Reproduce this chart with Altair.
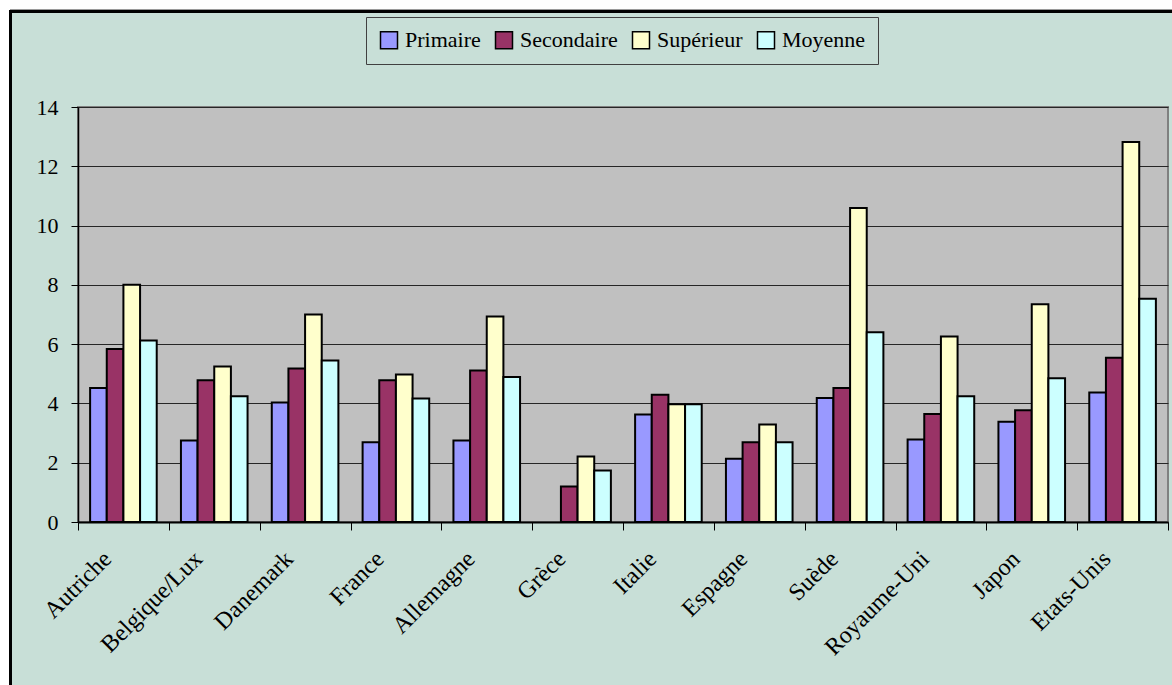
import altair as alt
import pandas as pd

# Countries along the x axis
pays = ["Autriche", "Belgique/Lux", "Danemark", "France", "Allemagne", "Grèce",
        "Italie", "Espagne", "Suède", "Royaume-Uni", "Japon", "Etats-Unis"]

# Series, one value per country
niveaux = ["Primaire", "Secondaire", "Supérieur", "Moyenne"]
primaire = [4.52, 2.75, 4.03, 2.69, 2.75, None, 3.63, 2.13, 4.18, 2.78, 3.38, 4.37]
secondaire = [5.84, 4.78, 5.18, 4.78, 5.11, 1.20, 4.29, 2.69, 4.52, 3.64, 3.77, 5.54]
superieur = [8.00, 5.25, 7.00, 4.98, 6.93, 2.21, 3.97, 3.29, 10.59, 6.26, 7.35, 12.82]
moyenne = [6.12, 4.24, 5.45, 4.17, 4.89, 1.74, 3.97, 2.69, 6.40, 4.24, 4.85, 7.53]

y_ticks = [0, 2, 4, 6, 8, 10, 12, 14]
couleurs = ["#9999FF", "#993366", "#FFFFCC", "#CCFFFF"]

BG = "#C8DFD7"
FONT = "Liberation Serif"

series = dict(zip(niveaux, [primaire, secondaire, superieur, moyenne]))
rows = []
for niv, vals in series.items():
    for p, v in zip(pays, vals):
        rows.append({"pays": p, "niveau": niv, "valeur": v})
df = pd.DataFrame(rows)

W, H = 1090, 415
PAD_L, PAD_T = 78, 107

bars = alt.Chart(df).mark_bar(stroke="black", strokeWidth=2).encode(
    x=alt.X(
        "pays:N", sort=pays, title=None,
        scale=alt.Scale(paddingInner=0, paddingOuter=0),
        axis=alt.Axis(
            tickBand="extent", labelAngle=315, labelAlign="right",
            labelBaseline="middle", labelOffset=-16, labelPadding=25,
            tickSize=8, tickColor="black", domainColor="black", domainWidth=2,
            labelFont=FONT, labelFontSize=24, labelColor="black", grid=False,
        ),
    ),
    xOffset=alt.XOffset(
        "niveau:N", sort=niveaux,
        scale=alt.Scale(domain=niveaux, paddingInner=0, paddingOuter=0.727),
    ),
    y=alt.Y(
        "valeur:Q", title=None,
        scale=alt.Scale(domain=[0, 14], nice=False),
        axis=alt.Axis(
            values=y_ticks, tickSize=7, tickColor="black", domainColor="black",
            domainWidth=1.5, labelPadding=13, labelFont=FONT, labelFontSize=22,
            labelColor="black", grid=True, gridColor="#262626", gridWidth=1,
        ),
    ),
    color=alt.Color(
        "niveau:N", sort=niveaux,
        scale=alt.Scale(domain=niveaux, range=couleurs),
        legend=alt.Legend(
            title=None, orient="none", legendX=288, legendY=-90,
            direction="horizontal", fillColor=BG, strokeColor="#404040",
            padding=12, symbolType="square", symbolSize=289,
            symbolStrokeColor="black", symbolStrokeWidth=1.5, symbolOpacity=1,
            labelFont=FONT, labelFontSize=22, labelColor="black",
            labelOffset=5, columnPadding=11,
        ),
    ),
)

one = pd.DataFrame({"k": [0]})

# White margin left and above the framed chart
marge_g = alt.Chart(one).mark_rect(color="white").encode(
    x=alt.value(-PAD_L), x2=alt.value(-PAD_L + 10),
    y=alt.value(-PAD_T), y2=alt.value(700),
)
marge_h = alt.Chart(one).mark_rect(color="white").encode(
    x=alt.value(-PAD_L), x2=alt.value(1200),
    y=alt.value(-PAD_T), y2=alt.value(-PAD_T + 10),
)
# Frame lines
ligne_grise = alt.Chart(one).mark_rule(color="#9a9a9a", strokeWidth=1).encode(
    x=alt.value(-PAD_L + 10), x2=alt.value(1200), y=alt.value(-PAD_T + 9.5),
)
cadre_h = alt.Chart(one).mark_rule(color="black", strokeWidth=3).encode(
    x=alt.value(-PAD_L + 9), x2=alt.value(1200), y=alt.value(-PAD_T + 11.5),
)
cadre_v = alt.Chart(one).mark_rule(color="black", strokeWidth=3).encode(
    x=alt.value(-PAD_L + 10.5), y=alt.value(-PAD_T + 10), y2=alt.value(700),
)

chart = alt.layer(marge_g, marge_h, ligne_grise, cadre_h, cadre_v, bars).properties(
    width=W, height=H,
    background=BG,
    padding={"left": PAD_L, "top": PAD_T, "right": 1172 - PAD_L - W, "bottom": 685 - PAD_T - H},
    autosize=alt.AutoSizeParams(type="none"),
).configure_view(
    fill="#C0C0C0", stroke="#808080", strokeWidth=2,
)

chart.save("out.html", embed_options={"renderer": "svg", "actions": False})
